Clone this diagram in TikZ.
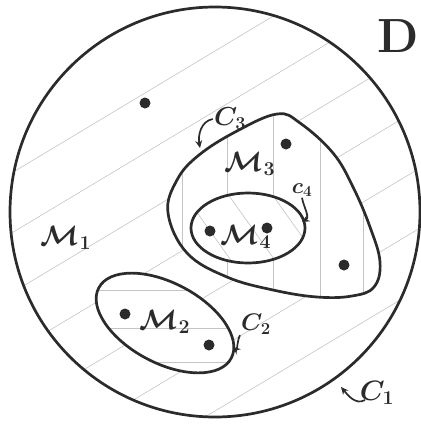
\RequirePackage{fix-cm}
\documentclass[tikz,border=0pt]{standalone}
\usepackage{amsmath, amssymb}
\usepackage{tikz}
\usetikzlibrary{arrows.meta, calc}
\definecolor{Ink}{HTML}{2B2B2B}
\definecolor{Hatch}{HTML}{C4C4C4}

\newcommand{\blobthree}{plot[smooth cycle, tension=0.65] coordinates {(277,114) (300,123) (333,153) (353,187) (370,227) (380,262) (374,287) (352,296) (317,297) (273,290) (227,277) (187,253) (168,213) (177,180) (199,155) (237,131)}}
\newcommand{\ovalfour}{(248,228) ellipse [x radius=57, y radius=35]}
\newcommand{\ovaltwo}{[rotate around={-28:(165,323)}] (165,323) ellipse [x radius=75, y radius=40]}

\begin{document}
\begin{tikzpicture}[
    x=1pt, y=-1pt,
    font=\fontsize{28}{32}\selectfont,
    rim/.style={draw=Ink, line width=2.7pt},
    hatch/.style={draw=Hatch, line width=0.6pt},
    dot/.style={circle, fill=Ink, inner sep=0pt, minimum size=11pt},
    lbl/.style={inner sep=1pt, text=Ink, execute at begin node=\boldmath},
    arr/.style={-{Stealth[length=2.6mm, width=2.4mm]}, line width=1.7pt, color=Ink}
  ]
  \useasboundingbox (0,0) rectangle (421,424);

  % hatching of M1
  \begin{scope}
    \clip (215,212) circle [radius=205];
    \foreach \b in {180,240,...,720}
      \draw[hatch] (0,\b) -- (421,{\b-0.6*421});
  \end{scope}

  % M3 with vertical hatching
  \begin{scope}
    \clip \blobthree;
    \fill[white] (0,0) rectangle (421,424);
    \foreach \a in {182,227,273,320,363}
      \draw[hatch] (\a,100) -- (\a,310);
  \end{scope}

  % M4 with steep hatching
  \begin{scope}
    \clip \ovalfour;
    \fill[white] (0,0) rectangle (421,424);
    \foreach \a in {208,252,296}
      \draw[hatch] ({\a-0.71*60},168) -- ({\a+0.71*60},288);
  \end{scope}

  % M2 with horizontal hatching
  \begin{scope}
    \clip \ovaltwo;
    \fill[white] (0,0) rectangle (421,424);
    \foreach \c in {290,328,362}
      \draw[hatch] (80,\c) -- (250,\c);
  \end{scope}

  % outlines
  \draw[rim] (215,212) circle [radius=205];
  \draw[rim] \blobthree;
  \draw[rim] \ovalfour;
  \draw[rim] \ovaltwo;

  % points
  \node[dot] (p1) at (145,103) {};
  \node[dot] (p2) at (286,144) {};
  \node[dot] (p3) at (344,265) {};
  \node[dot] (p4) at (210,231) {};
  \node[dot] (p5) at (267,228) {};
  \node[dot] (p6) at (125,314) {};
  \node[dot] (p7) at (209,345) {};

  % labels
  \node[lbl] (m1) at (66,238) {$\mathcal{M}_1$};
  \node[lbl] (m2) at (165,322) {$\mathcal{M}_2$};
  \node[lbl] (m3) at (250,164) {$\mathcal{M}_3$};
  \node[lbl] (m4) at (246,237) {$\mathcal{M}_4$};
  \node[lbl, font=\fontsize{48}{52}\selectfont\bfseries] (d) at (398,36) {D};
  \node[lbl] (c1) at (377,393) {$C_1$};
  \node[lbl, font=\fontsize{24}{28}\selectfont] (c2) at (256,324) {$C_2$};
  \node[lbl, font=\fontsize{26}{30}\selectfont] (c3) at (230,119) {$C_3$};
  \node[lbl, font=\fontsize{22}{24}\selectfont] (c4) at (302,190) {$c_4$};

  % arrows onto the curves
  \coordinate (t1) at (341,387);
  \coordinate (t2) at (233,347);
  \coordinate (t3) at (200,148);
  \coordinate (t4) at (302,222);
  \coordinate (s1) at (365,400);
  \draw[arr] (s1) to[out=210, in=-50] (t1);
  \draw[arr] (c2.south west) to[out=240, in=-40] (t2);
  \draw[arr] (c3.west) to[out=190, in=100] (t3);
  \draw[arr] (c4.south) to[out=-80, in=30] (t4);
\end{tikzpicture}
\end{document}
